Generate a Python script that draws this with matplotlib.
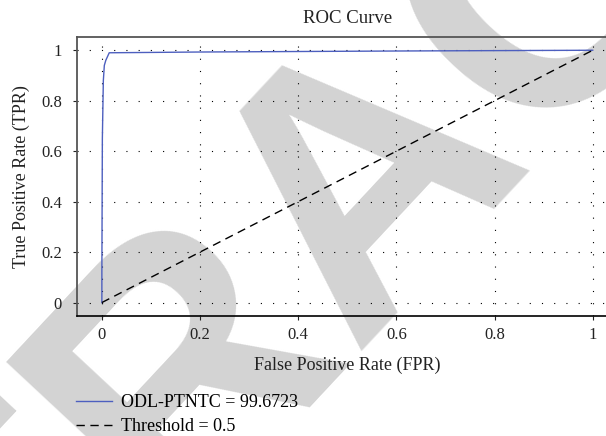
import matplotlib
matplotlib.use("Agg")
import matplotlib.pyplot as plt
from matplotlib.ticker import FormatStrFormatter

# ROC curve
fpr = [0.0, 0.0, 0.001, 0.003, 0.005, 0.008, 0.015, 0.2, 0.6, 1.0]
tpr = [0.0, 0.12, 0.65, 0.88, 0.94, 0.96, 0.99, 0.993, 0.997, 1.0]

# chance line
thr_x = [0.0, 1.0]
thr_y = [0.0, 1.0]

ticks = [0, 0.2, 0.4, 0.6, 0.8, 1]

plt.rcParams["font.family"] = ["Liberation Serif", "DejaVu Serif"]

fig = plt.figure(figsize=(6.06, 4.36), dpi=100)

# watermark behind everything
fig.text(0.609, 0.594, "RETRACTED", rotation=47, rotation_mode="anchor",
         ha="center", va="center", fontsize=265, fontweight="bold",
         family="Liberation Sans", color="#d3d3d3", zorder=-1)

ax = fig.add_axes([0.1276, 0.276, 0.891, 0.640])
ax.patch.set_alpha(0)

ax.plot(fpr, tpr, color="#4d5fbf", lw=1.0, label="ODL-PTNTC = 99.6723")
ax.plot(thr_x, thr_y, color="black", lw=1.0, linestyle=(0, (6, 4)),
        label="Threshold = 0.5")

ax.set_xlim(-0.05, 1.05)
ax.set_ylim(-0.052, 1.054)
ax.set_xticks(ticks)
ax.set_yticks(ticks)
ax.xaxis.set_major_formatter(FormatStrFormatter("%g"))
ax.yaxis.set_major_formatter(FormatStrFormatter("%g"))
ax.tick_params(labelsize=12, direction="out", length=3, width=0.8,
               colors="#222222")
ax.tick_params(axis="x", pad=5.5)
ax.tick_params(axis="y", pad=8)

ax.grid(True, color="black", lw=0.8, linestyle=(0, (1, 10)))

for side in ["top", "left"]:
    ax.spines[side].set_color("#555555")
    ax.spines[side].set_linewidth(1.3)
ax.spines["bottom"].set_color("black")
ax.spines["bottom"].set_linewidth(1.2)

ax.set_title("ROC Curve", fontsize=13.5, pad=10, color="#222222")
ax.set_xlabel("False Positive Rate (FPR)", fontsize=13, labelpad=9.5,
              color="#222222")
ax.set_ylabel("True Positive Rate (TPR)", fontsize=13, labelpad=8,
              color="#222222")

fig.legend(loc="upper left", bbox_to_anchor=(0.125, 0.096),
           frameon=False, fontsize=13, borderpad=0, borderaxespad=0,
           handlelength=2.0, handletextpad=0.5, labelspacing=0.37)

fig.savefig("out.png", dpi=100)
